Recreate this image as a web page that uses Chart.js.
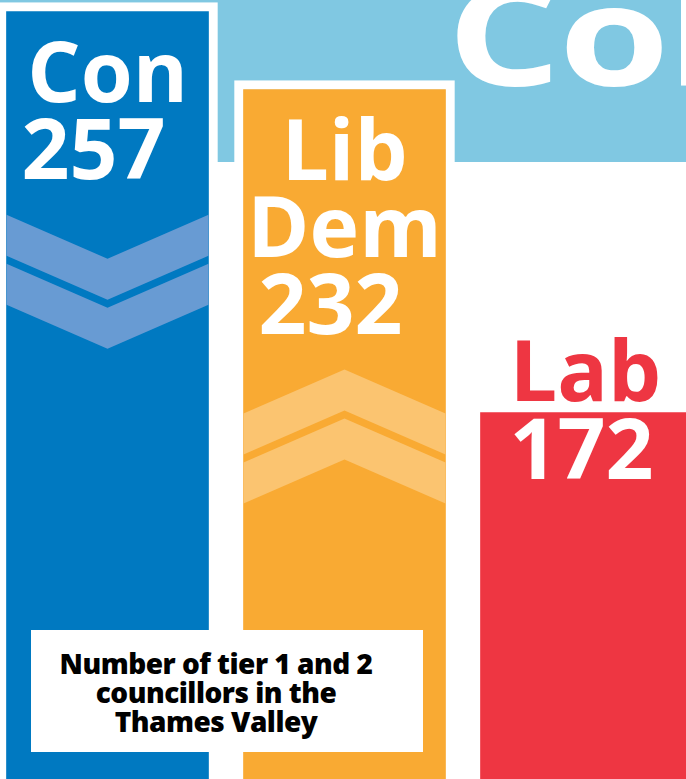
<!DOCTYPE html>
<html>
<head>
<meta charset="utf-8">
<script src="https://cdn.jsdelivr.net/npm/chart.js@4.4.1/dist/chart.umd.min.js"></script>
<style>
  html, body { margin: 0; padding: 0; background: #fff; }
  #wrap { position: relative; width: 686px; height: 779px; overflow: hidden; background: #fff; }
  #band { position: absolute; left: 0; top: 0; width: 686px; height: 162px; background: #80c8e2; }
  #bigword { position: absolute; left: 447px; top: -38px; font: bold 140px "Open Sans"; line-height: 1;
             color: #fff; white-space: nowrap; letter-spacing: -2px; transform: scaleX(1.28); transform-origin: left top; }
  #chart { position: absolute; left: -11px; top: 0; }
  #caption { position: absolute; left: 31px; top: 630px; width: 370px; height: 103px; padding: 19px 22px 0 0;
             background: #fff; text-align: center; font: 800 28px "Open Sans"; line-height: 29px;
             letter-spacing: -0.5px; color: #000; }
</style>
</head>
<body>
<div id="wrap">
  <div id="band"></div>
  <div id="bigword">Col</div>
  <canvas id="chart" width="711" height="779"></canvas>
  <div id="caption">Number of tier 1 and 2<br>councillors in the<br>Thames Valley</div>
</div>
<script>
const parties = ['Con', 'Lib Dem', 'Lab'];
const councillors = [257, 232, 172];
const trend = ['down', 'up', null];

const partyColours = ['#0079c1', '#f9aa33', '#ee3642'];
const chevronColours = ['#689bd3', '#fbc470', null];
const nameAbove = [false, false, true];

// the graphic isn't drawn to scale, so use a power scale to get the bar tops right
const POWER = -1.7;
const Y_MIN = 137.5;
const Y_MAX = 258;

class PowerScale extends Chart.LinearScale {
    tf(v) { return -Math.pow(v, POWER); }
    getPixelForValue(value) {
        if (value === null || value === undefined || isNaN(value)) return NaN;
        const lo = this.tf(this.min), hi = this.tf(this.max);
        return this.getPixelForDecimal((this.tf(value) - lo) / (hi - lo));
    }
    getValueForPixel(pixel) {
        const lo = this.tf(this.min), hi = this.tf(this.max);
        const t = lo + this.getDecimalForPixel(pixel) * (hi - lo);
        return Math.pow(-t, 1 / POWER);
    }
}
PowerScale.id = 'power';
PowerScale.defaults = Chart.LinearScale.defaults;
Chart.register(PowerScale);

const BORDER = 9;
// last bar runs off the right edge, so no right border on it
const borders = [BORDER, BORDER, { top: BORDER, left: BORDER, right: 0, bottom: 0 }];

function drawChevron(ctx, left, right, y0, dir, colour) {
    const mid = (left + right) / 2;
    const depth = 44, band = 41, step = 49;
    ctx.fillStyle = colour;
    for (let k = 0; k < 2; k++) {
        const y = y0 + k * step;
        ctx.beginPath();
        if (dir === 'down') {
            ctx.moveTo(left, y);
            ctx.lineTo(mid, y + depth);
            ctx.lineTo(right, y);
            ctx.lineTo(right, y + band);
            ctx.lineTo(mid, y + depth + band);
            ctx.lineTo(left, y + band);
        } else {
            ctx.moveTo(left, y + depth);
            ctx.lineTo(mid, y);
            ctx.lineTo(right, y + depth);
            ctx.lineTo(right, y + depth + band);
            ctx.lineTo(mid, y + band);
            ctx.lineTo(left, y + depth + band);
        }
        ctx.closePath();
        ctx.fill();
    }
}

const barLabels = {
    id: 'barLabels',
    afterDatasetsDraw(chart) {
        const ctx = chart.ctx;
        const meta = chart.getDatasetMeta(0);
        ctx.save();
        ctx.font = 'bold 84px "Open Sans"';
        ctx.textAlign = 'center';
        ctx.textBaseline = 'alphabetic';
        meta.data.forEach((bar, i) => {
            const top = bar.y + BORDER;
            const left = bar.x - bar.width / 2 + BORDER;
            const right = bar.x + bar.width / 2 - BORDER;
            const words = parties[i].split(' ');
            const lineH = 77;
            let last;
            if (nameAbove[i]) {
                ctx.fillStyle = partyColours[i];
                words.forEach((w, k) => {
                    ctx.fillText(w, bar.x + 4, top - 12 - (words.length - 1 - k) * lineH);
                });
                ctx.fillStyle = '#fff';
                last = top + 66;
                ctx.fillText(String(councillors[i]), bar.x, last);
            } else {
                ctx.fillStyle = '#fff';
                words.forEach((w, k) => {
                    ctx.fillText(w, bar.x, top + 90 + k * lineH);
                });
                last = top + 90 + words.length * lineH;
                ctx.fillText(String(councillors[i]), bar.x - 14, last);
            }
            if (trend[i]) {
                drawChevron(ctx, left, right, last + 36, trend[i], chevronColours[i]);
            }
        });
        ctx.restore();
    }
};

new Chart(document.getElementById('chart'), {
    type: 'bar',
    data: {
        labels: parties,
        datasets: [
            {
                data: councillors,
                backgroundColor: partyColours,
                borderColor: '#fff',
                borderWidth: borders,
                borderSkipped: 'start',
                barThickness: 220,
                base: Y_MIN
            }
        ]
    },
    options: {
        responsive: false,
        animation: false,
        events: [],
        layout: { padding: 0 },
        plugins: {
            legend: { display: false },
            tooltip: { enabled: false }
        },
        scales: {
            x: { display: false, grid: { display: false } },
            y: { type: 'power', min: Y_MIN, max: Y_MAX, display: false, grid: { display: false } }
        }
    },
    plugins: [barLabels]
});
</script>
</body>
</html>
